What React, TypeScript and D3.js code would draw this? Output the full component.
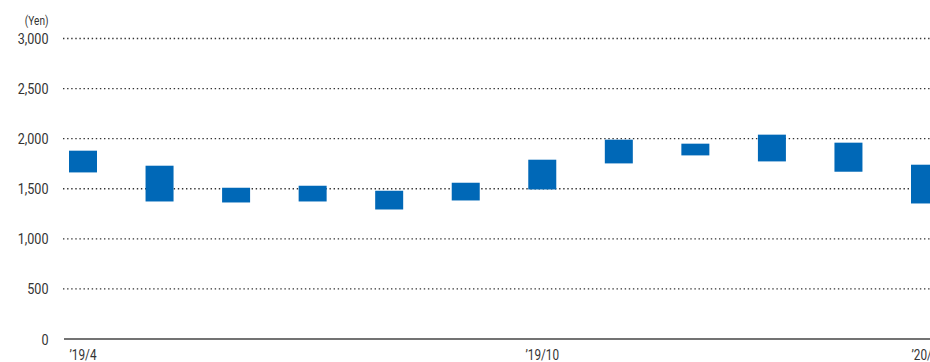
import React from "react";
import * as d3 from "d3";

const months = ["’19/4", "’19/5", "’19/6", "’19/7", "’19/8", "’19/9", "’19/10", "’19/11", "’19/12", "’20/1", "’20/2", "’20/3"];
const highs = [1880, 1730, 1510, 1530, 1480, 1560, 1790, 1990, 1950, 2040, 1960, 1740];
const lows = [1663, 1373, 1363, 1373, 1293, 1383, 1493, 1753, 1833, 1773, 1670, 1353];
const yTicks = [0, 500, 1000, 1500, 2000, 2500, 3000];
const shownLabels = ["’19/4", "’19/10", "’20/3"];

const W = 930;
const H = 362;
const FONT = "Roboto, 'Liberation Sans', sans-serif";

function CText(props: { x: number; y: number; anchor: string; size: number; children: React.ReactNode }) {
  return (
    <text
      transform={`translate(${props.x},${props.y}) scale(0.84,1)`}
      textAnchor={props.anchor}
      fontFamily={FONT}
      fontSize={props.size}
      fill="#333"
    >
      {props.children}
    </text>
  );
}

export default function App() {
  const y = d3.scaleLinear().domain([0, 3000]).range([339, 38.5]);
  const x = d3.scalePoint<string>().domain(months).range([83, 925]);
  const barW = 28;
  const fmt = d3.format(",");
  return (
    <svg width={W} height={H} style={{ position: "absolute", left: 0, top: 0, background: "#fff" }}>
      <CText x={48.5} y={24.5} anchor="end" size={12}>(Yen)</CText>
      {yTicks.map((t) => (
        <g key={t}>
          <CText x={48.5} y={y(t) + 5.5} anchor="end" size={15}>{fmt(t)}</CText>
          {t > 0 && (
            <line x1={63} x2={W} y1={y(t)} y2={y(t)} stroke="#333" strokeWidth={1.3} strokeDasharray="1.4 2.7" />
          )}
        </g>
      ))}
      {months.map((m, i) => (
        <rect key={m} x={(x(m) as number) - barW / 2} width={barW} y={y(highs[i])} height={y(lows[i]) - y(highs[i])} fill="#0068B7" />
      ))}
      <line x1={64} x2={W} y1={339} y2={339} stroke="#444" strokeWidth={1.6} />
      {shownLabels.map((m) => (
        <CText key={m} x={x(m) as number} y={360} anchor="middle" size={14}>{m}</CText>
      ))}
    </svg>
  );
}
